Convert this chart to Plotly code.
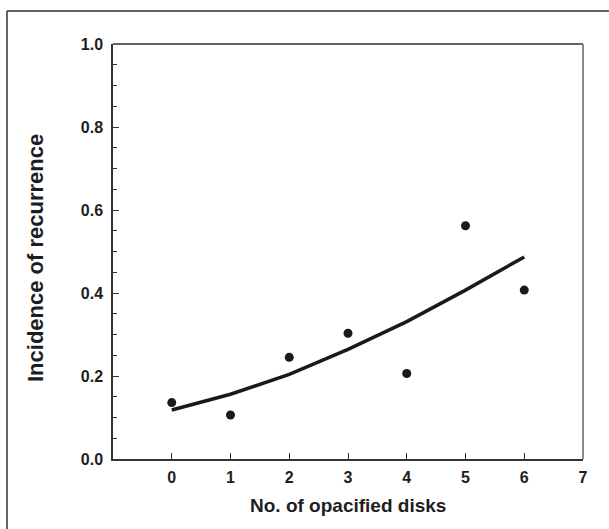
import plotly.graph_objects as go

disks = [0, 1, 2, 3, 4, 5, 6]
observed = [0.136, 0.106, 0.245, 0.303, 0.206, 0.562, 0.407]
fitted = [0.118, 0.156, 0.204, 0.264, 0.331, 0.407, 0.487]
x_ticks = [0, 1, 2, 3, 4, 5, 6, 7]
y_ticks = [0.0, 0.2, 0.4, 0.6, 0.8, 1.0]

FONT = "Liberation Sans, Arial, sans-serif"
TXT = "#1e1e1e"

fig = go.Figure()
fig.add_trace(go.Scatter(x=disks, y=fitted, mode="lines",
                         line=dict(color="#1a1a1a", width=3.5), showlegend=False))
fig.add_trace(go.Scatter(x=disks, y=observed, mode="markers",
                         marker=dict(color="#1a1a1a", size=9), showlegend=False))

fig.update_layout(
    width=609, height=529,
    margin=dict(l=113, r=26, t=44, b=70),
    paper_bgcolor="white", plot_bgcolor="white",
    font=dict(family=FONT, color=TXT),
    xaxis=dict(range=[-1, 7], tickvals=x_ticks, ticktext=[str(v) for v in x_ticks],
               showgrid=False, zeroline=False, showline=True, linecolor="#333",
               linewidth=1.5, ticks="inside", ticklen=6, tickcolor="#333",
               tickfont=dict(size=16, family=FONT, color=TXT, weight="bold"),
               ticklabelstandoff=3),
    yaxis=dict(range=[0, 1], tickvals=y_ticks, ticktext=[f"{v:.1f}" for v in y_ticks],
               showgrid=False, zeroline=False, showline=True, linecolor="#333",
               linewidth=1.5, ticks="inside", ticklen=6, tickcolor="#333",
               minor=dict(dtick=0.05, ticks="inside", ticklen=4, tickcolor="#333", showgrid=False),
               tickfont=dict(size=16, family=FONT, color=TXT, weight="bold"),
               ticklabelstandoff=5),
)

# top and right borders of the plot area
fig.add_shape(type="line", xref="paper", yref="paper", x0=0, x1=1, y0=1, y1=1,
              line=dict(color="#333", width=1.5))
fig.add_shape(type="line", xref="paper", yref="paper", x0=1, x1=1, y0=0, y1=1,
              line=dict(color="#888", width=2))

# outer frame (left and top)
fl = -106 / 470
ft = 1 + 33 / 415
fig.add_shape(type="line", xref="paper", yref="paper",
              x0=fl, x1=fl, y0=-75 / 415, y1=ft,
              line=dict(color="#333", width=1.5))
fig.add_shape(type="line", xref="paper", yref="paper",
              x0=fl, x1=1 + 30 / 470, y0=ft, y1=ft,
              line=dict(color="#333", width=1.5))

fig.add_annotation(text="No. of opacified disks", xref="paper", yref="paper",
                   x=(348 - 113) / 470, y=-(505 - 459) / 415, showarrow=False,
                   font=dict(size=19, family=FONT, color=TXT, weight="bold"),
                   xanchor="center", yanchor="middle")
fig.add_annotation(text="Incidence of recurrence", xref="paper", yref="paper",
                   x=-(113 - 35) / 470, y=(459 - 258) / 415, showarrow=False, textangle=-90,
                   font=dict(size=22, family=FONT, color=TXT, weight="bold"),
                   xanchor="center", yanchor="middle")

fig.write_html("out.html", post_script="document.body.style.margin='0';",
               config={"displayModeBar": False})
